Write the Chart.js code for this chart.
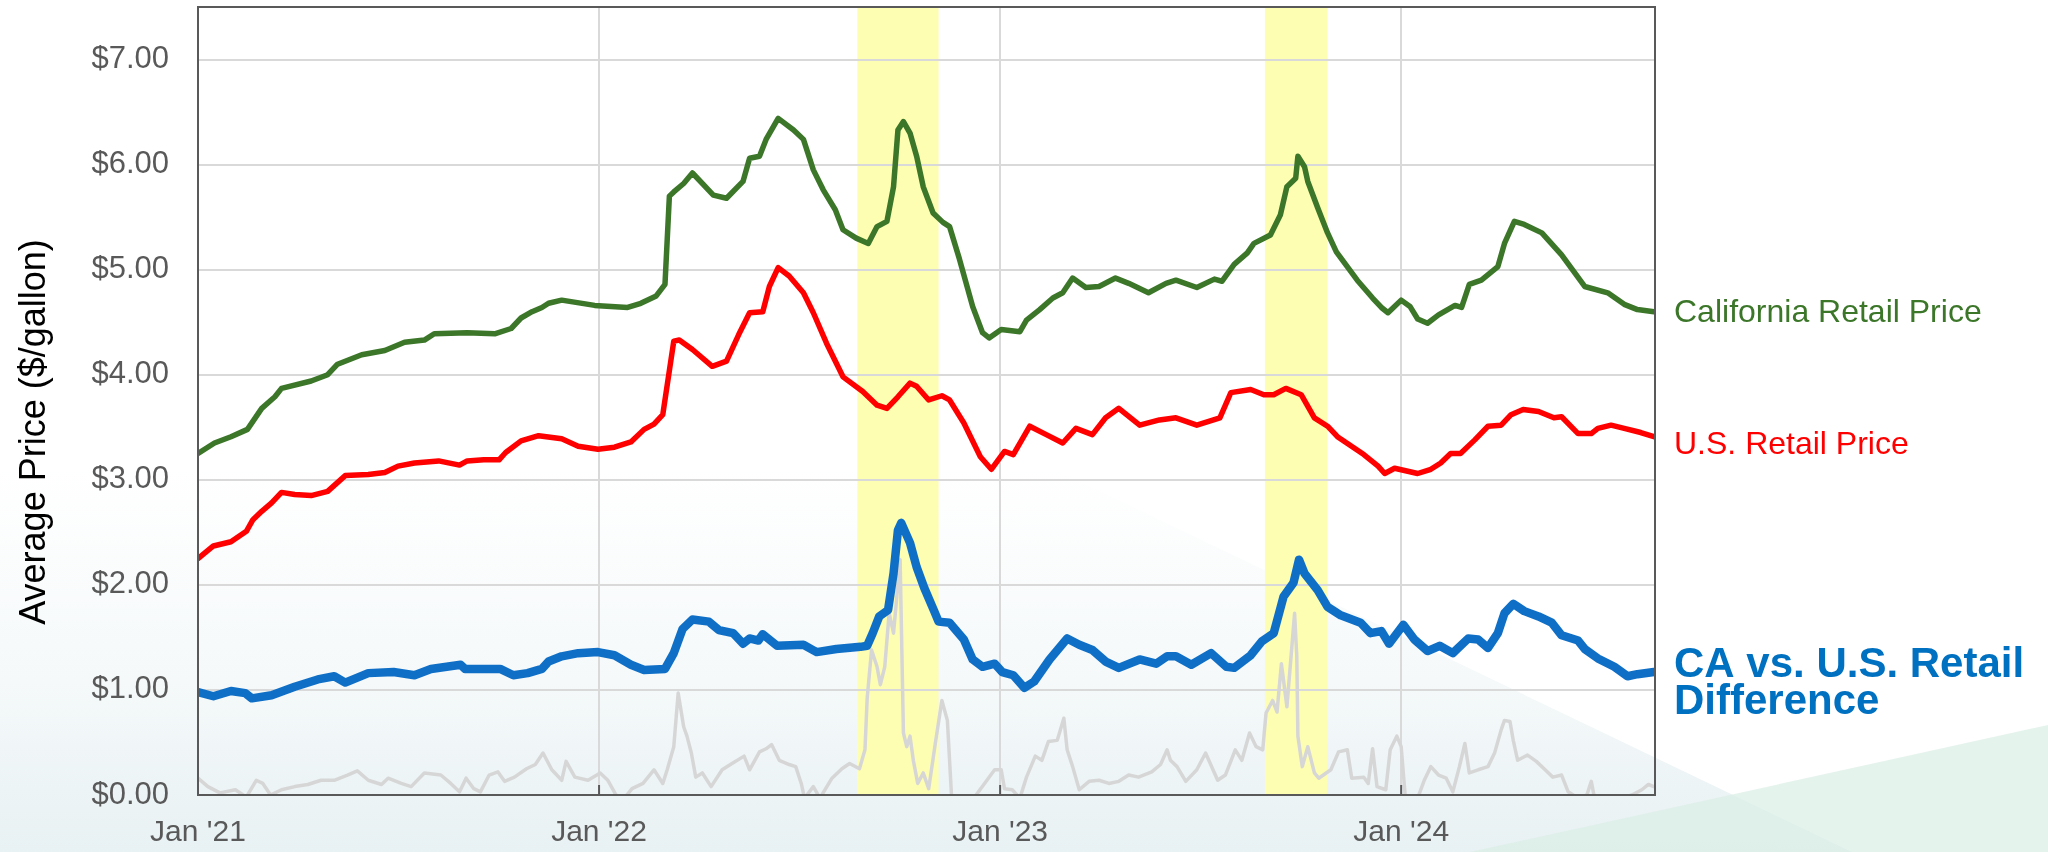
<!DOCTYPE html>
<html>
<head>
<meta charset="utf-8">
<title>CA vs U.S. retail gasoline price</title>
<script src="https://cdn.jsdelivr.net/npm/chart.js@4.4.1/dist/chart.umd.min.js"></script>
<style>
  html, body { margin: 0; padding: 0; }
  body {
    width: 2048px; height: 852px; position: relative; overflow: hidden;
    background: linear-gradient(to bottom, #ffffff 0%, #ffffff 55%, #f5f9fa 80%, #e8f1f3 100%);
    font-family: "Liberation Sans", Arial, sans-serif;
  }
  .shape { position: absolute; left: 0; top: 0; width: 2048px; height: 852px; }
  #whiteWedge { background: #ffffff; clip-path: polygon(1060px 0, 2048px 0, 2048px 852px, 1852px 852px, 1060px 472px); }
  #greenWedge { background: rgba(218, 238, 229, 0.7); clip-path: polygon(1470px 852px, 2048px 725px, 2048px 852px); }
  #chart { position: absolute; left: 0; top: 0; }
</style>
</head>
<body>
<div class="shape" id="whiteWedge"></div>
<div class="shape" id="greenWedge"></div>
<canvas id="chart" width="2048" height="852"></canvas>
<script>
// values, [date, $/gallon]
const caPrice = [
  ['2021-01-01',3.25],['2021-01-16',3.35],['2021-01-31',3.41],['2021-02-15',3.48],['2021-02-28',3.68],
  ['2021-03-12',3.79],['2021-03-18',3.87],['2021-04-14',3.94],['2021-04-29',4.00],['2021-05-08',4.10],
  ['2021-05-30',4.19],['2021-06-20',4.23],['2021-07-08',4.31],['2021-07-26',4.33],['2021-08-04',4.39],
  ['2021-09-03',4.40],['2021-09-28',4.39],['2021-10-13',4.44],['2021-10-22',4.54],['2021-11-01',4.60],
  ['2021-11-10',4.64],['2021-11-16',4.68],['2021-11-28',4.71],['2021-12-28',4.66],['2022-01-27',4.64],
  ['2022-02-08',4.68],['2022-02-22',4.75],['2022-03-02',4.86],['2022-03-06',5.70],['2022-03-10',5.74],
  ['2022-03-19',5.82],['2022-03-27',5.92],['2022-04-15',5.71],['2022-04-27',5.68],['2022-05-12',5.84],
  ['2022-05-18',6.06],['2022-05-27',6.08],['2022-06-02',6.24],['2022-06-13',6.44],['2022-06-27',6.33],
  ['2022-07-06',6.24],['2022-07-15',5.95],['2022-07-24',5.76],['2022-08-04',5.57],['2022-08-11',5.38],
  ['2022-08-23',5.30],['2022-09-03',5.25],['2022-09-11',5.41],['2022-09-20',5.46],['2022-09-26',5.79],
  ['2022-09-30',6.33],['2022-10-05',6.41],['2022-10-11',6.30],['2022-10-17',6.08],['2022-10-23',5.79],
  ['2022-11-01',5.54],['2022-11-10',5.45],['2022-11-16',5.41],['2022-11-25',5.10],['2022-12-07',4.65],
  ['2022-12-16',4.40],['2022-12-22',4.35],['2023-01-02',4.43],['2023-01-19',4.41],['2023-01-25',4.52],
  ['2023-02-06',4.62],['2023-02-18',4.73],['2023-02-27',4.78],['2023-03-08',4.92],['2023-03-20',4.83],
  ['2023-04-01',4.84],['2023-04-16',4.92],['2023-04-28',4.87],['2023-05-16',4.78],['2023-06-01',4.87],
  ['2023-06-10',4.90],['2023-06-29',4.83],['2023-07-15',4.91],['2023-07-22',4.89],['2023-08-02',5.05],
  ['2023-08-14',5.16],['2023-08-20',5.25],['2023-09-04',5.33],['2023-09-13',5.52],['2023-09-19',5.79],
  ['2023-09-27',5.87],['2023-09-29',6.08],['2023-10-05',5.98],['2023-10-08',5.84],['2023-10-17',5.59],
  ['2023-10-26',5.35],['2023-11-03',5.17],['2023-11-22',4.90],['2023-12-06',4.73],['2023-12-14',4.64],
  ['2023-12-20',4.59],['2024-01-01',4.71],['2024-01-09',4.65],['2024-01-16',4.53],['2024-01-25',4.49],
  ['2024-02-04',4.57],['2024-02-19',4.66],['2024-02-25',4.64],['2024-03-03',4.86],['2024-03-14',4.90],
  ['2024-03-29',5.03],['2024-04-04',5.25],['2024-04-13',5.46],['2024-04-22',5.43],['2024-05-08',5.35],
  ['2024-05-26',5.14],['2024-06-07',4.97],['2024-06-16',4.84],['2024-07-07',4.78],['2024-07-22',4.67],
  ['2024-08-03',4.62],['2024-08-18',4.60]
];

const usPrice = [
  ['2021-01-01',2.25],['2021-01-15',2.37],['2021-01-31',2.41],['2021-02-14',2.51],['2021-02-20',2.62],
  ['2021-02-28',2.70],['2021-03-09',2.78],['2021-03-18',2.88],['2021-03-30',2.86],['2021-04-14',2.85],
  ['2021-04-29',2.89],['2021-05-15',3.04],['2021-06-05',3.05],['2021-06-20',3.07],['2021-07-02',3.13],
  ['2021-07-17',3.16],['2021-08-08',3.18],['2021-08-27',3.14],['2021-09-03',3.18],['2021-09-18',3.19],
  ['2021-10-02',3.19],['2021-10-08',3.26],['2021-10-22',3.37],['2021-11-07',3.42],['2021-11-28',3.39],
  ['2021-12-13',3.32],['2021-12-31',3.29],['2022-01-15',3.31],['2022-01-30',3.36],['2022-02-11',3.48],
  ['2022-02-20',3.53],['2022-02-28',3.62],['2022-03-10',4.32],['2022-03-15',4.33],['2022-03-27',4.24],
  ['2022-04-14',4.08],['2022-04-27',4.13],['2022-05-08',4.38],['2022-05-18',4.59],['2022-05-30',4.60],
  ['2022-06-05',4.84],['2022-06-13',5.02],['2022-06-23',4.94],['2022-07-06',4.78],['2022-07-15',4.59],
  ['2022-07-27',4.30],['2022-08-11',3.98],['2022-08-29',3.84],['2022-09-11',3.71],['2022-09-20',3.68],
  ['2022-09-30',3.79],['2022-10-11',3.92],['2022-10-17',3.89],['2022-10-28',3.76],['2022-11-09',3.80],
  ['2022-11-16',3.76],['2022-11-29',3.54],['2022-12-14',3.22],['2022-12-24',3.10],['2023-01-05',3.27],
  ['2023-01-13',3.24],['2023-01-28',3.51],['2023-02-12',3.43],['2023-02-27',3.35],['2023-03-11',3.49],
  ['2023-03-26',3.43],['2023-04-07',3.59],['2023-04-19',3.68],['2023-05-08',3.52],['2023-05-26',3.57],
  ['2023-06-10',3.59],['2023-06-29',3.52],['2023-07-20',3.59],['2023-07-30',3.83],['2023-08-17',3.86],
  ['2023-08-29',3.81],['2023-09-07',3.81],['2023-09-18',3.87],['2023-10-02',3.81],['2023-10-14',3.59],
  ['2023-10-26',3.51],['2023-11-04',3.41],['2023-11-28',3.24],['2023-12-11',3.13],['2023-12-17',3.06],
  ['2023-12-26',3.11],['2024-01-16',3.06],['2024-01-28',3.10],['2024-02-06',3.16],['2024-02-15',3.25],
  ['2024-02-24',3.25],['2024-03-08',3.38],['2024-03-20',3.51],['2024-04-01',3.52],['2024-04-10',3.62],
  ['2024-04-21',3.67],['2024-05-05',3.65],['2024-05-19',3.59],['2024-05-26',3.60],['2024-06-10',3.44],
  ['2024-06-22',3.44],['2024-06-28',3.49],['2024-07-10',3.52],['2024-07-22',3.49],['2024-08-06',3.45],
  ['2024-08-18',3.41]
];

const caDifference = [
  ['2021-01-01',0.98],['2021-01-15',0.94],['2021-01-31',0.99],['2021-02-13',0.97],['2021-02-19',0.92],
  ['2021-03-09',0.95],['2021-03-30',1.03],['2021-04-20',1.10],['2021-05-05',1.13],['2021-05-15',1.07],
  ['2021-06-05',1.16],['2021-06-28',1.17],['2021-07-17',1.14],['2021-08-01',1.20],['2021-08-28',1.24],
  ['2021-09-01',1.20],['2021-10-03',1.20],['2021-10-15',1.14],['2021-10-28',1.16],['2021-11-10',1.20],
  ['2021-11-16',1.27],['2021-11-28',1.32],['2021-12-13',1.35],['2021-12-31',1.36],['2022-01-15',1.33],
  ['2022-01-30',1.24],['2022-02-11',1.19],['2022-03-02',1.20],['2022-03-10',1.35],['2022-03-18',1.58],
  ['2022-03-27',1.67],['2022-04-11',1.65],['2022-04-20',1.57],['2022-05-03',1.54],['2022-05-12',1.44],
  ['2022-05-18',1.49],['2022-05-26',1.47],['2022-05-30',1.53],['2022-06-12',1.42],['2022-07-06',1.43],
  ['2022-07-18',1.36],['2022-08-05',1.39],['2022-08-27',1.41],['2022-09-02',1.42],['2022-09-07',1.54],
  ['2022-09-13',1.70],['2022-09-21',1.76],['2022-09-26',2.11],['2022-09-30',2.52],['2022-10-03',2.59],
  ['2022-10-11',2.40],['2022-10-17',2.17],['2022-10-24',1.97],['2022-11-02',1.75],['2022-11-06',1.65],
  ['2022-11-16',1.64],['2022-11-29',1.48],['2022-12-07',1.29],['2022-12-16',1.22],['2022-12-27',1.25],
  ['2023-01-03',1.17],['2023-01-13',1.14],['2023-01-23',1.02],['2023-02-01',1.08],['2023-02-15',1.29],
  ['2023-03-03',1.49],['2023-03-14',1.43],['2023-03-26',1.38],['2023-04-07',1.27],['2023-04-19',1.21],
  ['2023-05-08',1.29],['2023-05-23',1.25],['2023-06-02',1.32],['2023-06-10',1.32],['2023-06-24',1.24],
  ['2023-07-12',1.35],['2023-07-26',1.22],['2023-08-02',1.21],['2023-08-17',1.33],['2023-08-27',1.46],
  ['2023-09-07',1.54],['2023-09-16',1.89],['2023-09-25',2.02],['2023-09-30',2.24],['2023-10-05',2.11],
  ['2023-10-17',1.95],['2023-10-26',1.79],['2023-11-07',1.71],['2023-11-25',1.64],['2023-12-04',1.54],
  ['2023-12-14',1.56],['2023-12-21',1.44],['2024-01-03',1.62],['2024-01-13',1.48],['2024-01-25',1.37],
  ['2024-02-05',1.42],['2024-02-17',1.35],['2024-03-02',1.49],['2024-03-11',1.48],['2024-03-20',1.40],
  ['2024-03-29',1.54],['2024-04-04',1.73],['2024-04-12',1.82],['2024-04-22',1.75],['2024-05-05',1.70],
  ['2024-05-17',1.64],['2024-05-26',1.52],['2024-06-10',1.47],['2024-06-16',1.39],['2024-06-28',1.30],
  ['2024-07-13',1.22],['2024-07-25',1.13],['2024-08-03',1.15],['2024-08-18',1.17]
];

// unlabelled grey trace near the bottom (goes below zero, clipped by the axis)
const grayTrace = [
  ['2021-01-01',0.16],['2021-01-10',0.08],['2021-01-21',0.02],['2021-02-04',0.05],['2021-02-14',-0.02],
  ['2021-02-23',0.14],['2021-03-01',0.11],['2021-03-08',0.00],['2021-03-18',0.05],['2021-03-30',0.08],
  ['2021-04-11',0.10],['2021-04-23',0.14],['2021-05-05',0.14],['2021-05-17',0.19],['2021-05-26',0.23],
  ['2021-06-05',0.14],['2021-06-17',0.10],['2021-06-23',0.16],['2021-07-05',0.11],['2021-07-14',0.08],
  ['2021-07-26',0.21],['2021-08-10',0.19],['2021-08-19',0.11],['2021-08-27',0.03],['2021-09-02',0.16],
  ['2021-09-09',0.06],['2021-09-15',0.03],['2021-09-23',0.19],['2021-10-01',0.22],['2021-10-07',0.13],
  ['2021-10-16',0.17],['2021-10-27',0.25],['2021-11-04',0.29],['2021-11-11',0.40],['2021-11-19',0.24],
  ['2021-11-28',0.14],['2021-12-02',0.32],['2021-12-10',0.17],['2021-12-22',0.14],['2022-01-02',0.21],
  ['2022-01-09',0.14],['2022-01-18',-0.03],['2022-01-24',-0.03],['2022-01-31',0.06],['2022-02-10',0.11],
  ['2022-02-20',0.24],['2022-02-28',0.11],['2022-03-04',0.24],['2022-03-10',0.46],['2022-03-14',0.97],
  ['2022-03-19',0.65],['2022-03-22',0.56],['2022-03-26',0.40],['2022-03-30',0.17],['2022-04-05',0.21],
  ['2022-04-13',0.08],['2022-04-23',0.24],['2022-05-02',0.30],['2022-05-13',0.37],['2022-05-18',0.24],
  ['2022-05-27',0.41],['2022-06-02',0.44],['2022-06-07',0.48],['2022-06-14',0.33],['2022-06-23',0.29],
  ['2022-06-29',0.27],['2022-07-04',0.11],['2022-07-07',-0.03],['2022-07-15',0.08],['2022-07-21',-0.03],
  ['2022-08-01',0.16],['2022-08-10',0.25],['2022-08-17',0.30],['2022-08-26',0.25],['2022-08-31',0.43],
  ['2022-09-02',0.92],['2022-09-06',1.38],['2022-09-11',1.22],['2022-09-14',1.05],['2022-09-18',1.22],
  ['2022-09-22',1.73],['2022-09-26',1.54],['2022-10-02',2.24],['2022-10-05',0.59],['2022-10-08',0.46],
  ['2022-10-11',0.56],['2022-10-14',0.33],['2022-10-18',0.11],['2022-10-23',0.21],['2022-10-28',0.06],
  ['2022-11-03',0.49],['2022-11-09',0.90],['2022-11-14',0.71],['2022-11-18',-0.05],['2022-11-29',-0.05],
  ['2022-12-08',-0.03],['2022-12-20',0.14],['2022-12-27',0.24],['2023-01-02',0.24],['2023-01-05',0.06],
  ['2023-01-12',0.05],['2023-01-19',-0.03],['2023-01-25',0.17],['2023-02-02',0.37],['2023-02-08',0.33],
  ['2023-02-14',0.51],['2023-02-22',0.52],['2023-02-28',0.73],['2023-03-03',0.43],['2023-03-08',0.27],
  ['2023-03-14',0.05],['2023-03-23',0.13],['2023-04-01',0.14],['2023-04-10',0.11],['2023-04-19',0.13],
  ['2023-04-28',0.19],['2023-05-07',0.17],['2023-05-19',0.22],['2023-05-27',0.29],['2023-06-02',0.43],
  ['2023-06-05',0.33],['2023-06-11',0.27],['2023-06-19',0.13],['2023-06-29',0.24],['2023-07-07',0.40],
  ['2023-07-18',0.14],['2023-07-25',0.19],['2023-08-03',0.43],['2023-08-09',0.33],['2023-08-16',0.59],
  ['2023-08-22',0.46],['2023-08-28',0.43],['2023-08-31',0.78],['2023-09-06',0.90],['2023-09-10',0.79],
  ['2023-09-14',1.25],['2023-09-19',0.84],['2023-09-22',1.22],['2023-09-26',1.73],['2023-09-28',1.32],
  ['2023-09-29',0.56],['2023-10-03',0.27],['2023-10-08',0.46],['2023-10-14',0.21],['2023-10-18',0.16],
  ['2023-10-29',0.24],['2023-11-05',0.41],['2023-11-13',0.43],['2023-11-17',0.16],['2023-11-28',0.17],
  ['2023-12-02',0.11],['2023-12-06',0.44],['2023-12-10',0.08],['2023-12-18',0.05],['2023-12-22',0.43],
  ['2023-12-28',0.56],['2024-01-01',0.46],['2024-01-05',-0.05],['2024-01-16',-0.03],['2024-01-22',0.14],
  ['2024-01-28',0.27],['2024-02-04',0.19],['2024-02-11',0.16],['2024-02-17',0.03],['2024-02-23',0.27],
  ['2024-02-28',0.49],['2024-03-03',0.21],['2024-03-11',0.24],['2024-03-20',0.27],['2024-03-26',0.40],
  ['2024-04-01',0.62],['2024-04-04',0.71],['2024-04-09',0.70],['2024-04-12',0.52],['2024-04-16',0.33],
  ['2024-04-25',0.38],['2024-05-03',0.32],['2024-05-11',0.24],['2024-05-18',0.17],['2024-05-26',0.19],
  ['2024-06-01',0.03],['2024-06-10',-0.03],['2024-06-18',0.00],['2024-06-22',0.13],['2024-06-25',-0.03],
  ['2024-07-07',-0.05],['2024-07-20',-0.03],['2024-07-29',0.00],['2024-08-07',0.05],['2024-08-13',0.10],
  ['2024-08-18',0.08]
];

// highlighted periods (yellow)
const highlightBands = [['2022-08-24', '2022-11-06'], ['2023-08-30', '2023-10-26']];

const xTickDates = ['2021-01-01', '2022-01-01', '2023-01-01', '2024-01-01'];
const xTickLabels = ["Jan '21", "Jan '22", "Jan '23", "Jan '24"];
const yTickValues = [0, 1, 2, 3, 4, 5, 6, 7];

const FONT = '"Liberation Sans", Arial, sans-serif';
const GREEN = '#3b7629';
const RED = '#ff0000';
const BLUE = '#0f6fc6';

function toPoints(list) {
  return list.map(([d, v]) => ({ x: Date.parse(d), y: v }));
}

// labels at the right end of each line
const endLabels = [
  { dataset: 2, lines: ['California Retail Price'], font: '32px ' + FONT, color: GREEN, dy: 1, lineGap: 0 },
  { dataset: 1, lines: ['U.S. Retail Price'], font: '32px ' + FONT, color: RED, dy: 8, lineGap: 0 },
  { dataset: 0, lines: ['CA vs. U.S. Retail', 'Difference'], font: 'bold 42px ' + FONT, color: '#0070c0', dy: -7, lineGap: 37 }
];

const decorations = {
  id: 'decorations',
  beforeDraw(chart) {
    const { ctx, chartArea: a, scales: { x } } = chart;
    ctx.save();
    ctx.fillStyle = '#fefeb2';
    highlightBands.forEach(([from, to]) => {
      const x0 = x.getPixelForValue(Date.parse(from));
      const x1 = x.getPixelForValue(Date.parse(to));
      ctx.fillRect(x0, a.top, x1 - x0, a.bottom - a.top);
    });
    ctx.restore();
  },
  afterDatasetsDraw(chart) {
    const { ctx, chartArea: a, scales: { x } } = chart;
    ctx.save();
    // frame
    ctx.strokeStyle = '#595959';
    ctx.lineWidth = 2;
    ctx.strokeRect(a.left, a.top, a.right - a.left, a.bottom - a.top);
    // small inside tick marks at each January
    xTickDates.forEach(d => {
      const px = x.getPixelForValue(Date.parse(d));
      ctx.beginPath();
      ctx.moveTo(px, a.bottom);
      ctx.lineTo(px, a.bottom - 10);
      ctx.stroke();
    });

    // line labels
    ctx.textAlign = 'left';
    ctx.textBaseline = 'middle';
    endLabels.forEach(lab => {
      const meta = chart.getDatasetMeta(lab.dataset);
      const last = meta.data[meta.data.length - 1];
      ctx.font = lab.font;
      ctx.fillStyle = lab.color;
      lab.lines.forEach((txt, i) => {
        ctx.fillText(txt, a.right + 19, last.y + lab.dy + i * lab.lineGap);
      });
    });

    // y axis title
    ctx.translate(35, 432);
    ctx.rotate(-Math.PI / 2);
    ctx.textAlign = 'center';
    ctx.font = '36px ' + FONT;
    ctx.fillStyle = '#000000';
    ctx.fillText('Average Price ($/gallon)', 0, 0);
    ctx.restore();
  }
};

const lineStyle = { pointRadius: 0, tension: 0, borderJoinStyle: 'round', borderCapStyle: 'round', fill: false };

new Chart(document.getElementById('chart'), {
  type: 'line',
  data: {
    datasets: [
      { label: 'CA vs. U.S. Retail Difference', data: toPoints(caDifference), borderColor: BLUE, borderWidth: 8.5, order: 0, ...lineStyle },
      { label: 'U.S. Retail Price', data: toPoints(usPrice), borderColor: RED, borderWidth: 5.5, order: 1, ...lineStyle },
      { label: 'California Retail Price', data: toPoints(caPrice), borderColor: GREEN, borderWidth: 5.5, order: 2, ...lineStyle },
      { label: 'grey', data: toPoints(grayTrace), borderColor: '#d6d6d6', borderWidth: 3.5, order: 3, ...lineStyle }
    ]
  },
  options: {
    responsive: false,
    devicePixelRatio: 1,
    animation: false,
    layout: { padding: { top: 7, right: 393, bottom: 0, left: 0 } },
    plugins: { legend: { display: false }, tooltip: { enabled: false } },
    scales: {
      x: {
        type: 'linear',
        min: Date.parse('2021-01-01'),
        max: Date.parse('2024-08-19'),
        afterBuildTicks: scale => { scale.ticks = xTickDates.map(d => ({ value: Date.parse(d) })); },
        afterFit: scale => {
          scale.height = 57;
          scale.paddingLeft = 0; scale.paddingRight = 0;
        },
        border: { display: false },
        grid: { color: '#d9d9d9', lineWidth: 2, drawTicks: false },
        ticks: {
          autoSkip: false, maxRotation: 0, padding: 20,
          color: '#595959', font: { family: FONT, size: 30 },
          callback: (v, i) => xTickLabels[i]
        }
      },
      y: {
        min: 0,
        max: 7.5,
        afterBuildTicks: scale => { scale.ticks = yTickValues.map(v => ({ value: v })); },
        afterFit: scale => {
          scale.width = 198;
          scale.paddingTop = 0; scale.paddingBottom = 0;
        },
        border: { display: false },
        grid: { color: '#d9d9d9', lineWidth: 2, drawTicks: false },
        ticks: {
          padding: 29,
          color: '#595959', font: { family: FONT, size: 31 },
          callback: v => '$' + v.toFixed(2)
        }
      }
    }
  },
  plugins: [decorations]
});
</script>
</body>
</html>
